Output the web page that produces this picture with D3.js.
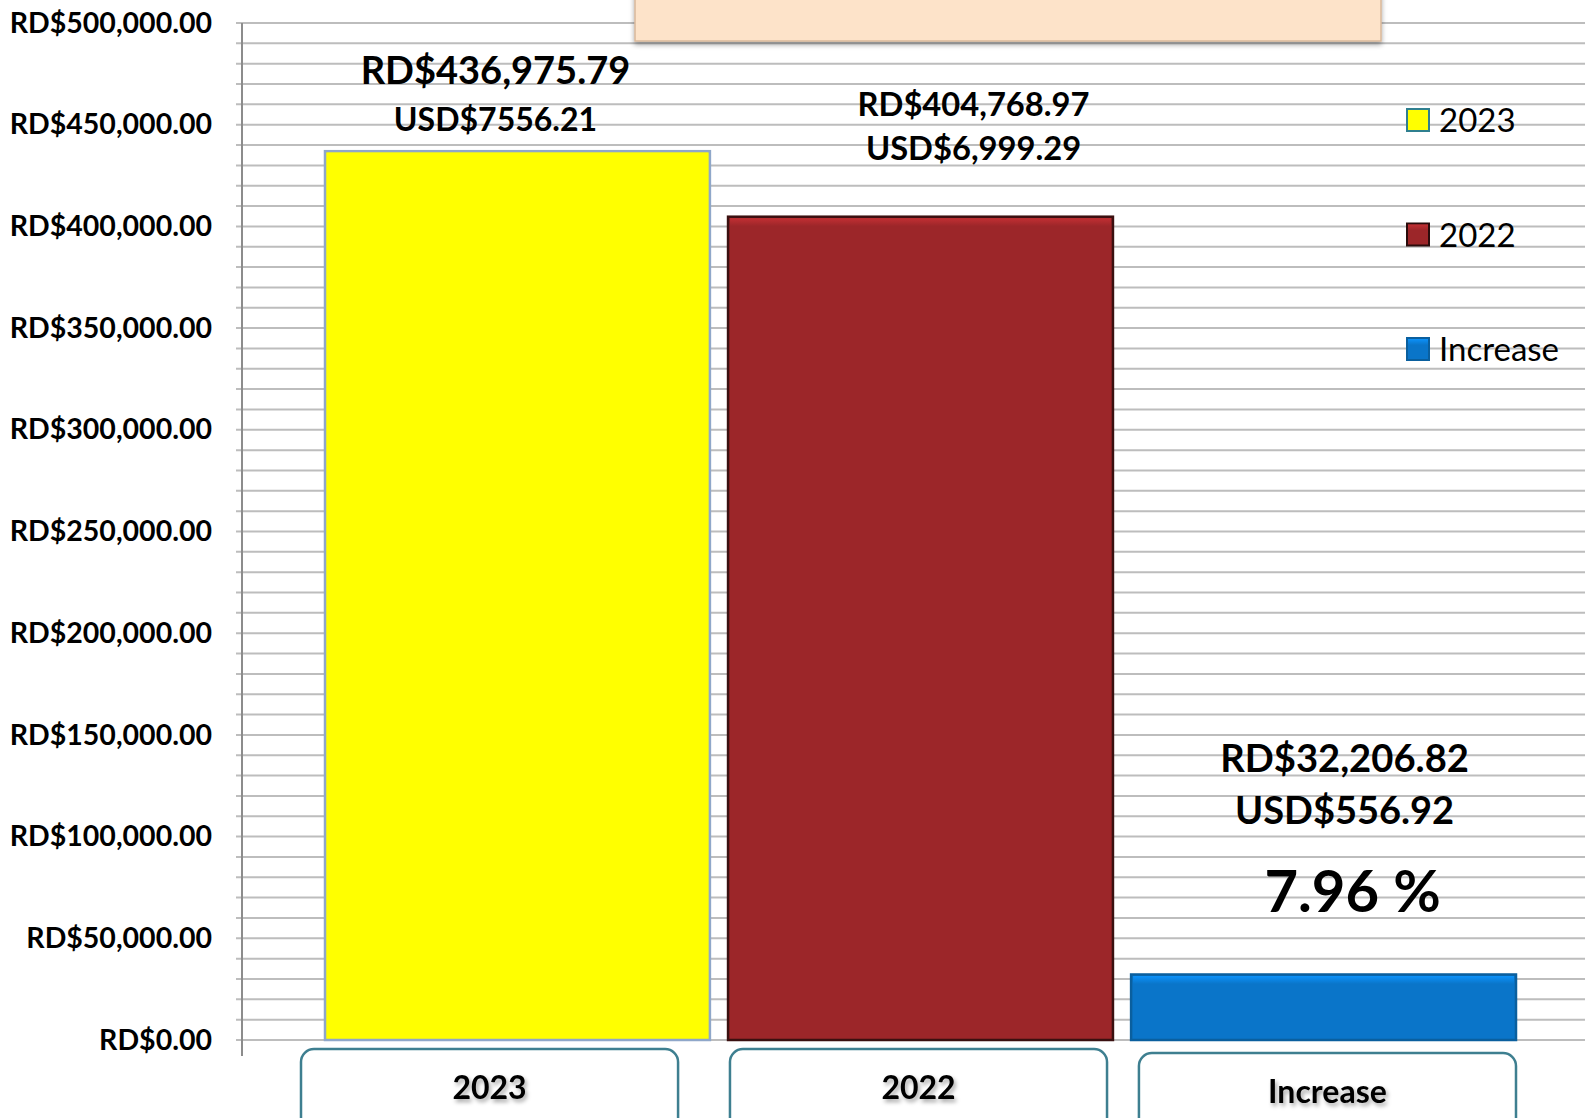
<!DOCTYPE html>
<html>
<head>
<meta charset="utf-8">
<script src="https://cdn.jsdelivr.net/npm/d3@7"></script>
<style>
  body { margin: 0; background: #fff; }
  svg { display: block; font-family: Lato, "Open Sans", sans-serif; }
</style>
</head>
<body>
<svg id="chart"></svg>
<script>
// chart data
const categories = ['2023', '2022', 'Increase'];
const valuesRD = [436975.79, 404768.97, 32206.82];
const labelsRD = ['RD$436,975.79', 'RD$404,768.97', 'RD$32,206.82'];
const labelsUSD = ['USD$7556.21', 'USD$6,999.29', 'USD$556.92'];
const increasePct = '7.96 %';
const yTicks = [0, 50000, 100000, 150000, 200000, 250000, 300000, 350000, 400000, 450000, 500000];
const barColors = ['#ffff00', '#9c2629', '#0a75c9'];
const barStrokes = ['#8fa7c9', '#3a1010', '#0a5f9e'];

const width = 1585, height = 1118;
const margin = {top: 23, bottom: 78, left: 242};

const svg = d3.select('#chart')
  .attr('width', width)
  .attr('height', height);

const defs = svg.append('defs');
const shadow = defs.append('filter').attr('id', 'txt-shadow')
  .attr('x', '-10%').attr('y', '-10%').attr('width', '130%').attr('height', '140%');
shadow.append('feDropShadow')
  .attr('dx', 2).attr('dy', 3).attr('stdDeviation', 2)
  .attr('flood-color', '#000').attr('flood-opacity', 0.35);

const boxShadow = defs.append('filter').attr('id', 'box-shadow')
  .attr('x', '-5%').attr('y', '-20%').attr('width', '110%').attr('height', '160%');
boxShadow.append('feDropShadow')
  .attr('dx', 0).attr('dy', 3).attr('stdDeviation', 2.5)
  .attr('flood-color', '#000').attr('flood-opacity', 0.35);

// bevel gradients for bars
barColors.forEach((c, i) => {
  const g = defs.append('linearGradient').attr('id', 'bevel-' + i)
    .attr('x1', 0).attr('y1', 0).attr('x2', 0).attr('y2', 1);
  g.append('stop').attr('offset', '0%').attr('stop-color', d3.color(c).brighter(0.6));
  g.append('stop').attr('offset', '100%').attr('stop-color', c);
});

// scales
const y = d3.scaleLinear()
  .domain([0, 500000])
  .range([height - margin.bottom, margin.top]);

const x = d3.scaleBand()
  .domain(categories)
  .range([325, 1516])
  .paddingInner(0.045)
  .paddingOuter(0);

const xBox = d3.scaleBand()
  .domain(categories)
  .range([301, 1516])
  .paddingInner(0.1);

// gridlines every 10,000
const minor = d3.range(0, 500001, 10000);
svg.append('g')
  .selectAll('line')
  .data(minor)
  .join('line')
  .attr('x1', margin.left - 6)
  .attr('x2', width)
  .attr('y1', d => y(d))
  .attr('y2', d => y(d))
  .attr('stroke', '#bdbdbd')
  .attr('stroke-width', 2);

// peach title box, cut off at the top
svg.append('rect')
  .attr('x', 635).attr('y', -20)
  .attr('width', 746).attr('height', 61)
  .attr('fill', '#fde3c9')
  .attr('stroke', '#d8b89a')
  .attr('stroke-width', 1.5)
  .attr('filter', 'url(#box-shadow)');

// y axis
const yAxis = d3.axisLeft(y)
  .tickValues(yTicks)
  .tickSize(0)
  .tickPadding(30)
  .tickFormat(d => 'RD$' + d3.format(',.2f')(d));

const yg = svg.append('g')
  .attr('transform', `translate(${margin.left},0)`)
  .call(yAxis);
yg.select('.domain').remove();
yg.selectAll('text')
  .attr('font-family', 'Lato, sans-serif')
  .attr('font-size', 28.5)
  .attr('font-weight', 700)
  .attr('fill', '#000');

svg.append('line')
  .attr('x1', margin.left).attr('x2', margin.left)
  .attr('y1', y(500000)).attr('y2', y(0) + 16)
  .attr('stroke', '#8c8c8c').attr('stroke-width', 2);

// bars
svg.append('g')
  .selectAll('rect')
  .data(categories)
  .join('rect')
  .attr('x', d => x(d))
  .attr('y', (d, i) => y(valuesRD[i]))
  .attr('width', x.bandwidth())
  .attr('height', (d, i) => y(0) - y(valuesRD[i]))
  .attr('fill', (d, i) => barColors[i])
  .attr('stroke', (d, i) => barStrokes[i])
  .attr('stroke-width', 2.5);

// bevel highlight strip at the top of the bars
svg.append('g')
  .selectAll('rect')
  .data(categories)
  .join('rect')
  .attr('x', d => x(d) + 2)
  .attr('y', (d, i) => y(valuesRD[i]) + 1.5)
  .attr('width', x.bandwidth() - 4)
  .attr('height', 8)
  .attr('fill', (d, i) => `url(#bevel-${i})`);

// value labels
const rdSize = [38, 32.7, 38.2];
const usdSize = [32, 32.7, 38];
const rdBase = [84, 116, 772];
const usdBase = [131, 160, 824];
const labelShift = [-22, 53, 21];

const lab = svg.append('g')
  .attr('font-family', 'Lato, sans-serif')
  .attr('font-weight', 700)
  .attr('text-anchor', 'middle')
  .attr('fill', '#000');

categories.forEach((c, i) => {
  const cx = x(c) + x.bandwidth() / 2 + labelShift[i];
  lab.append('text')
    .attr('x', cx).attr('y', rdBase[i])
    .attr('font-size', rdSize[i])
    .text(labelsRD[i]);
  lab.append('text')
    .attr('x', cx).attr('y', usdBase[i])
    .attr('font-size', usdSize[i])
    .text(labelsUSD[i]);
});
lab.append('text')
  .attr('x', x('Increase') + x.bandwidth() / 2 + 29)
  .attr('y', 912)
  .attr('font-size', 58)
  .text(increasePct);

// category label boxes
const boxTop = [1049, 1049, 1053];
const boxShift = [0, 10, 0];
const cat = svg.append('g');
categories.forEach((c, i) => {
  const bx = xBox(c) + boxShift[i];
  cat.append('rect')
    .attr('x', bx).attr('y', boxTop[i])
    .attr('width', xBox.bandwidth()).attr('height', 90)
    .attr('rx', 13).attr('ry', 13)
    .attr('fill', '#fff')
    .attr('stroke', '#3e7f90')
    .attr('stroke-width', 2.5);
  cat.append('text')
    .attr('x', bx + xBox.bandwidth() / 2)
    .attr('y', boxTop[i] + 50)
    .attr('text-anchor', 'middle')
    .attr('font-family', 'Lato, sans-serif')
    .attr('font-weight', 700)
    .attr('font-size', 32)
    .attr('filter', 'url(#txt-shadow)')
    .text(c);
});

// legend
const legendMarkStroke = ['#2f7f8f', '#2a0c0c', '#0a5f9e'];
const legend = svg.append('g').attr('transform', 'translate(1407,0)');
const legendY = d3.scalePoint().domain(categories).range([120, 349]);
categories.forEach((c, i) => {
  legend.append('rect')
    .attr('x', 0).attr('y', legendY(c) - 11)
    .attr('width', 22).attr('height', 22)
    .attr('fill', barColors[i])
    .attr('stroke', legendMarkStroke[i])
    .attr('stroke-width', 2);
  legend.append('rect')
    .attr('x', 1).attr('y', legendY(c) - 10)
    .attr('width', 20).attr('height', 6)
    .attr('fill', `url(#bevel-${i})`);
  legend.append('text')
    .attr('x', 32).attr('y', legendY(c) + 12)
    .attr('font-family', 'Lato, sans-serif')
    .attr('font-size', 33)
    .attr('fill', '#000')
    .text(c);
});
</script>
</body>
</html>
